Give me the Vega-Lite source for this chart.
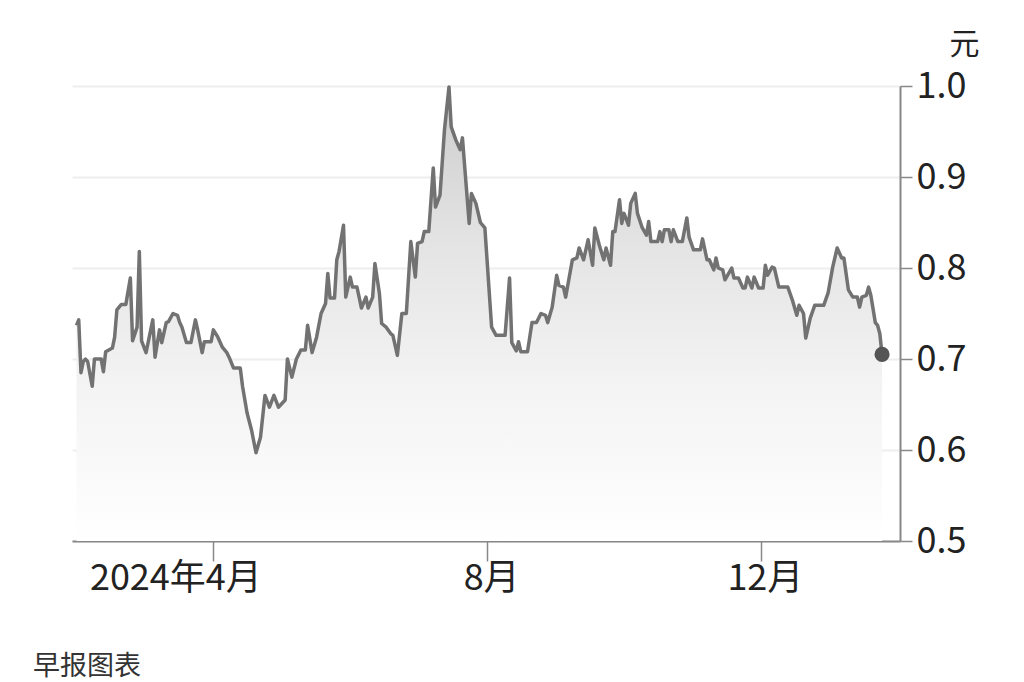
{
  "$schema": "https://vega.github.io/schema/vega-lite/v6.json",
  "width": 828,
  "height": 455,
  "autosize": {"type": "none"},
  "padding": {"left": 72, "top": 86, "right": 124, "bottom": 141},
  "background": "#ffffff",
  "config": {
    "font": "Noto Sans CJK SC",
    "view": {"stroke": null}
  },
  "title": {
    "text": "早报图表",
    "orient": "bottom",
    "anchor": "start",
    "frame": "group",
    "dx": -39,
    "offset": 58,
    "fontSize": 27,
    "fontWeight": "normal",
    "color": "#333333",
    "font": "Noto Sans CJK SC"
  },
  "data": {
    "values": [
      {"date": "2024-01-31", "price": 0.737},
      {"date": "2024-02-01", "price": 0.743},
      {"date": "2024-02-02", "price": 0.685},
      {"date": "2024-02-03", "price": 0.697},
      {"date": "2024-02-04", "price": 0.700},
      {"date": "2024-02-05", "price": 0.697},
      {"date": "2024-02-07", "price": 0.670},
      {"date": "2024-02-08", "price": 0.700},
      {"date": "2024-02-11", "price": 0.700},
      {"date": "2024-02-12", "price": 0.686},
      {"date": "2024-02-13", "price": 0.708},
      {"date": "2024-02-16", "price": 0.712},
      {"date": "2024-02-17", "price": 0.724},
      {"date": "2024-02-18", "price": 0.754},
      {"date": "2024-02-20", "price": 0.760},
      {"date": "2024-02-22", "price": 0.760},
      {"date": "2024-02-24", "price": 0.789},
      {"date": "2024-02-25", "price": 0.720},
      {"date": "2024-02-27", "price": 0.735},
      {"date": "2024-02-28", "price": 0.818},
      {"date": "2024-02-29", "price": 0.720},
      {"date": "2024-03-02", "price": 0.707},
      {"date": "2024-03-05", "price": 0.743},
      {"date": "2024-03-06", "price": 0.702},
      {"date": "2024-03-08", "price": 0.732},
      {"date": "2024-03-09", "price": 0.718},
      {"date": "2024-03-11", "price": 0.740},
      {"date": "2024-03-12", "price": 0.741},
      {"date": "2024-03-14", "price": 0.750},
      {"date": "2024-03-16", "price": 0.748},
      {"date": "2024-03-17", "price": 0.740},
      {"date": "2024-03-18", "price": 0.735},
      {"date": "2024-03-20", "price": 0.718},
      {"date": "2024-03-22", "price": 0.718},
      {"date": "2024-03-24", "price": 0.743},
      {"date": "2024-03-25", "price": 0.732},
      {"date": "2024-03-27", "price": 0.707},
      {"date": "2024-03-28", "price": 0.719},
      {"date": "2024-03-31", "price": 0.719},
      {"date": "2024-04-01", "price": 0.732},
      {"date": "2024-04-03", "price": 0.724},
      {"date": "2024-04-05", "price": 0.713},
      {"date": "2024-04-07", "price": 0.707},
      {"date": "2024-04-08", "price": 0.702},
      {"date": "2024-04-10", "price": 0.690},
      {"date": "2024-04-13", "price": 0.690},
      {"date": "2024-04-14", "price": 0.670},
      {"date": "2024-04-16", "price": 0.641},
      {"date": "2024-04-18", "price": 0.622},
      {"date": "2024-04-20", "price": 0.597},
      {"date": "2024-04-22", "price": 0.614},
      {"date": "2024-04-24", "price": 0.660},
      {"date": "2024-04-26", "price": 0.647},
      {"date": "2024-04-28", "price": 0.660},
      {"date": "2024-04-30", "price": 0.647},
      {"date": "2024-05-03", "price": 0.655},
      {"date": "2024-05-04", "price": 0.700},
      {"date": "2024-05-06", "price": 0.680},
      {"date": "2024-05-08", "price": 0.700},
      {"date": "2024-05-10", "price": 0.710},
      {"date": "2024-05-12", "price": 0.710},
      {"date": "2024-05-13", "price": 0.737},
      {"date": "2024-05-15", "price": 0.707},
      {"date": "2024-05-17", "price": 0.724},
      {"date": "2024-05-19", "price": 0.750},
      {"date": "2024-05-21", "price": 0.761},
      {"date": "2024-05-22", "price": 0.794},
      {"date": "2024-05-23", "price": 0.767},
      {"date": "2024-05-25", "price": 0.767},
      {"date": "2024-05-26", "price": 0.809},
      {"date": "2024-05-27", "price": 0.818},
      {"date": "2024-05-29", "price": 0.847},
      {"date": "2024-05-30", "price": 0.768},
      {"date": "2024-06-01", "price": 0.790},
      {"date": "2024-06-02", "price": 0.779},
      {"date": "2024-06-04", "price": 0.779},
      {"date": "2024-06-06", "price": 0.756},
      {"date": "2024-06-08", "price": 0.768},
      {"date": "2024-06-09", "price": 0.756},
      {"date": "2024-06-11", "price": 0.768},
      {"date": "2024-06-12", "price": 0.805},
      {"date": "2024-06-14", "price": 0.772},
      {"date": "2024-06-15", "price": 0.739},
      {"date": "2024-06-17", "price": 0.735},
      {"date": "2024-06-19", "price": 0.728},
      {"date": "2024-06-20", "price": 0.726},
      {"date": "2024-06-22", "price": 0.704},
      {"date": "2024-06-24", "price": 0.750},
      {"date": "2024-06-26", "price": 0.750},
      {"date": "2024-06-28", "price": 0.829},
      {"date": "2024-06-30", "price": 0.790},
      {"date": "2024-07-01", "price": 0.827},
      {"date": "2024-07-03", "price": 0.829},
      {"date": "2024-07-04", "price": 0.840},
      {"date": "2024-07-06", "price": 0.840},
      {"date": "2024-07-08", "price": 0.910},
      {"date": "2024-07-09", "price": 0.867},
      {"date": "2024-07-11", "price": 0.880},
      {"date": "2024-07-13", "price": 0.952},
      {"date": "2024-07-15", "price": 0.999},
      {"date": "2024-07-16", "price": 0.955},
      {"date": "2024-07-18", "price": 0.941},
      {"date": "2024-07-20", "price": 0.930},
      {"date": "2024-07-21", "price": 0.943},
      {"date": "2024-07-24", "price": 0.849},
      {"date": "2024-07-25", "price": 0.882},
      {"date": "2024-07-27", "price": 0.871},
      {"date": "2024-07-29", "price": 0.850},
      {"date": "2024-07-31", "price": 0.844},
      {"date": "2024-08-03", "price": 0.735},
      {"date": "2024-08-05", "price": 0.726},
      {"date": "2024-08-09", "price": 0.726},
      {"date": "2024-08-11", "price": 0.789},
      {"date": "2024-08-12", "price": 0.718},
      {"date": "2024-08-14", "price": 0.709},
      {"date": "2024-08-15", "price": 0.719},
      {"date": "2024-08-16", "price": 0.708},
      {"date": "2024-08-19", "price": 0.708},
      {"date": "2024-08-21", "price": 0.740},
      {"date": "2024-08-23", "price": 0.740},
      {"date": "2024-08-25", "price": 0.750},
      {"date": "2024-08-27", "price": 0.748},
      {"date": "2024-08-28", "price": 0.740},
      {"date": "2024-08-30", "price": 0.757},
      {"date": "2024-09-01", "price": 0.792},
      {"date": "2024-09-02", "price": 0.781},
      {"date": "2024-09-04", "price": 0.779},
      {"date": "2024-09-05", "price": 0.768},
      {"date": "2024-09-08", "price": 0.809},
      {"date": "2024-09-10", "price": 0.811},
      {"date": "2024-09-11", "price": 0.822},
      {"date": "2024-09-13", "price": 0.809},
      {"date": "2024-09-15", "price": 0.831},
      {"date": "2024-09-17", "price": 0.803},
      {"date": "2024-09-18", "price": 0.844},
      {"date": "2024-09-20", "price": 0.825},
      {"date": "2024-09-22", "price": 0.809},
      {"date": "2024-09-23", "price": 0.822},
      {"date": "2024-09-25", "price": 0.803},
      {"date": "2024-09-26", "price": 0.840},
      {"date": "2024-09-27", "price": 0.840},
      {"date": "2024-09-29", "price": 0.875},
      {"date": "2024-09-30", "price": 0.849},
      {"date": "2024-10-01", "price": 0.860},
      {"date": "2024-10-03", "price": 0.847},
      {"date": "2024-10-04", "price": 0.871},
      {"date": "2024-10-06", "price": 0.882},
      {"date": "2024-10-07", "price": 0.860},
      {"date": "2024-10-09", "price": 0.845},
      {"date": "2024-10-11", "price": 0.836},
      {"date": "2024-10-12", "price": 0.851},
      {"date": "2024-10-13", "price": 0.829},
      {"date": "2024-10-16", "price": 0.829},
      {"date": "2024-10-17", "price": 0.840},
      {"date": "2024-10-18", "price": 0.829},
      {"date": "2024-10-19", "price": 0.842},
      {"date": "2024-10-21", "price": 0.842},
      {"date": "2024-10-22", "price": 0.829},
      {"date": "2024-10-23", "price": 0.842},
      {"date": "2024-10-25", "price": 0.829},
      {"date": "2024-10-27", "price": 0.829},
      {"date": "2024-10-29", "price": 0.855},
      {"date": "2024-10-30", "price": 0.834},
      {"date": "2024-11-01", "price": 0.820},
      {"date": "2024-11-04", "price": 0.820},
      {"date": "2024-11-05", "price": 0.832},
      {"date": "2024-11-07", "price": 0.809},
      {"date": "2024-11-08", "price": 0.809},
      {"date": "2024-11-10", "price": 0.798},
      {"date": "2024-11-11", "price": 0.811},
      {"date": "2024-11-12", "price": 0.800},
      {"date": "2024-11-14", "price": 0.798},
      {"date": "2024-11-15", "price": 0.787},
      {"date": "2024-11-18", "price": 0.800},
      {"date": "2024-11-19", "price": 0.789},
      {"date": "2024-11-21", "price": 0.789},
      {"date": "2024-11-23", "price": 0.778},
      {"date": "2024-11-24", "price": 0.778},
      {"date": "2024-11-25", "price": 0.790},
      {"date": "2024-11-27", "price": 0.778},
      {"date": "2024-11-28", "price": 0.790},
      {"date": "2024-11-30", "price": 0.778},
      {"date": "2024-12-02", "price": 0.778},
      {"date": "2024-12-03", "price": 0.803},
      {"date": "2024-12-04", "price": 0.792},
      {"date": "2024-12-06", "price": 0.801},
      {"date": "2024-12-07", "price": 0.800},
      {"date": "2024-12-09", "price": 0.779},
      {"date": "2024-12-13", "price": 0.779},
      {"date": "2024-12-15", "price": 0.765},
      {"date": "2024-12-17", "price": 0.748},
      {"date": "2024-12-18", "price": 0.759},
      {"date": "2024-12-20", "price": 0.750},
      {"date": "2024-12-21", "price": 0.723},
      {"date": "2024-12-23", "price": 0.745},
      {"date": "2024-12-25", "price": 0.759},
      {"date": "2024-12-29", "price": 0.759},
      {"date": "2024-12-31", "price": 0.773},
      {"date": "2025-01-02", "price": 0.801},
      {"date": "2025-01-04", "price": 0.822},
      {"date": "2025-01-06", "price": 0.811},
      {"date": "2025-01-07", "price": 0.811},
      {"date": "2025-01-09", "price": 0.776},
      {"date": "2025-01-11", "price": 0.768},
      {"date": "2025-01-13", "price": 0.768},
      {"date": "2025-01-14", "price": 0.757},
      {"date": "2025-01-15", "price": 0.768},
      {"date": "2025-01-17", "price": 0.770},
      {"date": "2025-01-18", "price": 0.779},
      {"date": "2025-01-19", "price": 0.770},
      {"date": "2025-01-21", "price": 0.740},
      {"date": "2025-01-22", "price": 0.737},
      {"date": "2025-01-23", "price": 0.728},
      {"date": "2025-01-24", "price": 0.705}
    ]
  },
  "encoding": {
    "x": {
      "field": "date",
      "type": "temporal",
      "scale": {
        "type": "utc",
        "domain": [
          {"year": 2024, "month": 1, "date": 29, "utc": true},
          {"year": 2025, "month": 2, "date": 1, "utc": true}
        ]
      },
      "axis": {
        "title": null,
        "values": [
          {"year": 2024, "month": 4, "date": 1, "utc": true},
          {"year": 2024, "month": 8, "date": 1, "utc": true},
          {"year": 2024, "month": 12, "date": 1, "utc": true}
        ],
        "labelExpr": "utcmonth(datum.value) == 3 ? '2024年4月' : (utcmonth(datum.value) + 1) + '月'",
        "labelFontSize": 36,
        "labelColor": "#222222",
        "labelFont": "Noto Sans CJK SC",
        "labelOverlap": false,
        "labelBound": false,
        "labelFlush": false,
        "labelPadding": 0,
        "labelOffset": {"condition": {"test": "utcmonth(datum.value) == 3", "value": -38}, "value": 4},
        "tickSize": 20,
        "tickColor": "#888888",
        "tickWidth": 1.5,
        "domainColor": "#888888",
        "domainWidth": 2,
        "grid": false
      }
    },
    "y": {
      "field": "price",
      "type": "quantitative",
      "scale": {"domain": [0.5, 1.0], "zero": false, "nice": false},
      "axis": {
        "orient": "right",
        "title": "元",
        "titleAngle": 0,
        "titleX": 64,
        "titleY": -42,
        "titleAlign": "center",
        "titleBaseline": "middle",
        "titleFontSize": 30,
        "titleFontWeight": "normal",
        "titleColor": "#222222",
        "titleFont": "Noto Sans CJK SC",
        "values": [0.5, 0.6, 0.7, 0.8, 0.9, 1.0],
        "format": ".1f",
        "labelFontSize": 36,
        "labelColor": "#222222",
        "labelFont": "Noto Sans CJK SC",
        "labelPadding": 4,
        "labelBound": false,
        "labelFlush": false,
        "labelOverlap": false,
        "tickSize": 12,
        "tickColor": "#888888",
        "tickWidth": 1.5,
        "domainColor": "#888888",
        "domainWidth": 2,
        "grid": true,
        "gridColor": "#eeeeee",
        "gridWidth": 2
      }
    }
  },
  "layer": [
    {
      "mark": {
        "type": "area",
        "color": {
          "gradient": "linear",
          "x1": 0, "y1": 0, "x2": 0, "y2": 1,
          "stops": [
            {"offset": 0, "color": "#cccccc"},
            {"offset": 0.35, "color": "#e4e4e4"},
            {"offset": 0.65, "color": "#f3f3f3"},
            {"offset": 1, "color": "#ffffff"}
          ]
        }
      },
      "encoding": {"y2": {"datum": 0.5}}
    },
    {
      "mark": {"type": "line", "color": "#727272", "strokeWidth": 3.5, "strokeJoin": "round"},
      "encoding": {}
    },
    {
      "transform": [
        {"joinaggregate": [{"op": "max", "field": "date", "as": "lastDate"}]},
        {"filter": "time(datum.date) == time(datum.lastDate)"}
      ],
      "mark": {"type": "point", "filled": true, "color": "#555555", "size": 230, "opacity": 1},
      "encoding": {}
    }
  ]
}
